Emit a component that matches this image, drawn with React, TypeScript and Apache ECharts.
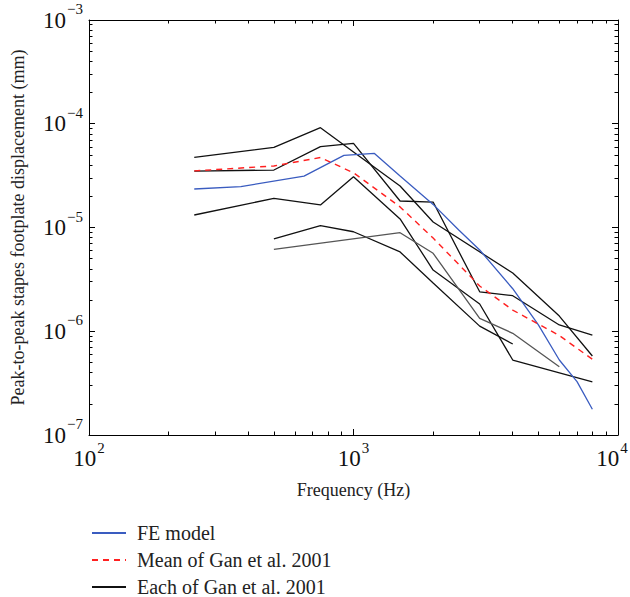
import React, { useEffect, useRef } from 'react';
import * as echarts from 'echarts';

// FE model
const feFreq = [250, 375, 650, 920, 1200, 1500, 2000, 2500, 3000, 4000, 5000, 6000, 7000, 8000];
const feValues = [2.35e-5, 2.48e-5, 3.13e-5, 4.96e-5, 5.17e-5, 3.13e-5, 1.67e-5, 9.46e-6, 6.07e-6, 2.57e-6, 1.15e-6, 5.28e-7, 3.27e-7, 1.77e-7];

// Mean of Gan et al. 2001
const meanFreq = [250, 500, 750, 1000, 1500, 2000, 3000, 4000, 6000, 8000];
const meanValues = [3.51e-5, 3.92e-5, 4.73e-5, 3.37e-5, 1.58e-5, 7.92e-6, 2.73e-6, 1.6e-6, 9.1e-7, 5.37e-7];

// Each of Gan et al. 2001
const earAFreq = [250, 500, 750, 1000, 1500, 2000, 4000, 6000, 8000];
const earAValues = [4.75e-5, 5.93e-5, 9.16e-5, 5.34e-5, 2.51e-5, 1.13e-5, 3.64e-6, 1.4e-6, 5.77e-7];
const earBFreq = [250, 500, 750, 1000, 1500, 2000, 3000, 4000, 6000, 8000];
const earBValues = [3.5e-5, 3.58e-5, 6.01e-5, 6.48e-5, 1.8e-5, 1.76e-5, 2.4e-6, 2.2e-6, 1.15e-6, 9.2e-7];
const earCFreq = [250, 500, 750, 1000, 1500, 2000, 3000, 4000, 8000];
const earCValues = [1.32e-5, 1.91e-5, 1.65e-5, 3.09e-5, 1.21e-5, 3.89e-6, 1.83e-6, 5.28e-7, 3.26e-7];
const earDFreq = [500, 750, 1000, 1500, 2000, 3000, 4000];
const earDValues = [7.75e-6, 1.04e-5, 9.1e-6, 5.81e-6, 2.92e-6, 1.12e-6, 7.54e-7];
const earEFreq = [500, 1500, 2000, 3000, 4000, 6000];
const earEValues = [6.16e-6, 8.91e-6, 5.64e-6, 1.33e-6, 9.55e-7, 4.55e-7];

// Axis ticks
const xMajor = [100, 1000, 10000];
const xMinor = [200, 300, 400, 500, 600, 700, 800, 900, 2000, 3000, 4000, 5000, 6000, 7000, 8000, 9000];
const yMajor = [1e-7, 1e-6, 1e-5, 1e-4, 1e-3];
const yMinor = [
  2e-7, 3e-7, 4e-7, 5e-7, 6e-7, 7e-7, 8e-7, 9e-7,
  2e-6, 3e-6, 4e-6, 5e-6, 6e-6, 7e-6, 8e-6, 9e-6,
  2e-5, 3e-5, 4e-5, 5e-5, 6e-5, 7e-5, 8e-5, 9e-5,
  2e-4, 3e-4, 4e-4, 5e-4, 6e-4, 7e-4, 8e-4, 9e-4,
];

const seriesName = {
  fe: 'FE model',
  mean: 'Mean of Gan et al. 2001',
  each: 'Each of Gan et al. 2001',
};

const FONT = 'Liberation Serif, DejaVu Serif, serif';

const pairs = (f: number[], v: number[]) => f.map((x, i) => [x, v[i]]);

const expText = (value: number) => {
  const e = Math.round(Math.log10(value));
  return e < 0 ? '\u2212' + -e : String(e);
};

const yLabel = (value: number) => '10{sup|' + expText(value) + '}';

// the last x label is nudged left so it stays inside the picture
const xLabel = (value: number) =>
  value >= 10000 ? '10{supLast|' + expText(value) + '}' : '10{sup|' + expText(value) + '}';

const labelRich = {
  sup: { fontSize: 15, fontFamily: FONT, color: '#111', padding: [0, 0, 22, 1] },
  supLast: { fontSize: 15, fontFamily: FONT, color: '#111', padding: [0, 12, 22, 1] },
};

export default function App() {
  const ref = useRef<HTMLDivElement>(null);
  useEffect(() => {
    document.body.style.margin = '0';
    if (!ref.current) return;
    const chart = echarts.init(ref.current, undefined, { renderer: 'svg' });

    const lineAxis = { show: true, lineStyle: { color: '#000', width: 1 } };
    const baseX = { type: 'log', logBase: 10, min: 100, max: 10000, splitLine: { show: false } };
    const baseY = { type: 'log', logBase: 10, min: 1e-7, max: 1e-3, splitLine: { show: false } };

    const blackLine = (f: number[], v: number[], color = '#111') => ({
      name: seriesName.each,
      type: 'line',
      data: pairs(f, v),
      showSymbol: false,
      symbol: 'none',
      lineStyle: { color, width: 1.3 },
      itemStyle: { color },
      z: 2,
    });

    const legendRow = (name: string, top: number) => ({
      orient: 'vertical',
      left: 91,
      top,
      padding: 0,
      itemWidth: 34,
      itemHeight: 14,
      itemStyle: { opacity: 0 },
      selectedMode: false,
      data: [name],
      textStyle: { fontFamily: FONT, fontSize: 20, color: '#222', padding: [0, 0, 0, 6] },
    });

    chart.setOption({
      animation: false,
      grid: { left: 89, right: 12, top: 20, bottom: 162, containLabel: false, outerBoundsMode: 'none' },
      legend: [
        legendRow(seriesName.fe, 523),
        legendRow(seriesName.mean, 550),
        legendRow(seriesName.each, 577),
      ],
      xAxis: [
        {
          ...baseX,
          position: 'bottom',
          axisLine: lineAxis,
          axisTick: { show: true, inside: true, length: 6, customValues: xMajor, lineStyle: { color: '#000' } },
          axisLabel: {
            show: true,
            customValues: xMajor,
            formatter: xLabel,
            margin: 5,
            fontFamily: FONT,
            fontSize: 23,
            color: '#111',
            rich: labelRich,
          },
          name: 'Frequency (Hz)',
          nameLocation: 'middle',
          nameGap: 46,
          nameTextStyle: { fontFamily: FONT, fontSize: 18, color: '#222' },
        },
        {
          ...baseX,
          position: 'bottom',
          axisLine: { show: false },
          axisTick: { show: true, inside: true, length: 3.5, customValues: xMinor, lineStyle: { color: '#000' } },
          axisLabel: { show: false },
        },
        {
          ...baseX,
          position: 'top',
          axisLine: lineAxis,
          axisTick: { show: true, inside: true, length: 6, customValues: xMajor, lineStyle: { color: '#000' } },
          axisLabel: { show: false },
        },
        {
          ...baseX,
          position: 'top',
          axisLine: { show: false },
          axisTick: { show: true, inside: true, length: 3.5, customValues: xMinor, lineStyle: { color: '#000' } },
          axisLabel: { show: false },
        },
      ],
      yAxis: [
        {
          ...baseY,
          position: 'left',
          axisLine: lineAxis,
          axisTick: { show: true, inside: true, length: 6, customValues: yMajor, lineStyle: { color: '#000' } },
          axisLabel: {
            show: true,
            customValues: yMajor,
            formatter: yLabel,
            margin: 6,
            fontFamily: FONT,
            fontSize: 23,
            color: '#111',
            rich: labelRich,
          },
          name: 'Peak-to-peak stapes footplate displacement (mm)',
          nameLocation: 'middle',
          nameGap: 62,
          nameTextStyle: { fontFamily: FONT, fontSize: 18, color: '#222' },
        },
        {
          ...baseY,
          position: 'left',
          axisLine: { show: false },
          axisTick: { show: true, inside: true, length: 3.5, customValues: yMinor, lineStyle: { color: '#000' } },
          axisLabel: { show: false },
        },
        {
          ...baseY,
          position: 'right',
          axisLine: lineAxis,
          axisTick: { show: true, inside: true, length: 6, customValues: yMajor, lineStyle: { color: '#000' } },
          axisLabel: { show: false },
        },
        {
          ...baseY,
          position: 'right',
          axisLine: { show: false },
          axisTick: { show: true, inside: true, length: 3.5, customValues: yMinor, lineStyle: { color: '#000' } },
          axisLabel: { show: false },
        },
      ],
      series: [
        {
          name: seriesName.fe,
          type: 'line',
          data: pairs(feFreq, feValues),
          showSymbol: false,
          symbol: 'none',
          lineStyle: { color: '#3a5cc0', width: 1.3 },
          itemStyle: { color: '#3a5cc0' },
          z: 3,
        },
        {
          name: seriesName.mean,
          type: 'line',
          data: pairs(meanFreq, meanValues),
          showSymbol: false,
          symbol: 'none',
          lineStyle: { color: '#ff2020', width: 1.4, type: [6, 5] },
          itemStyle: { color: '#ff2020' },
          z: 4,
        },
        blackLine(earAFreq, earAValues),
        blackLine(earBFreq, earBValues),
        blackLine(earCFreq, earCValues),
        blackLine(earDFreq, earDValues),
        blackLine(earEFreq, earEValues, '#555'),
      ],
    });
    return () => chart.dispose();
  }, []);
  return <div ref={ref} style={{ width: 630, height: 597 }} />;
}
